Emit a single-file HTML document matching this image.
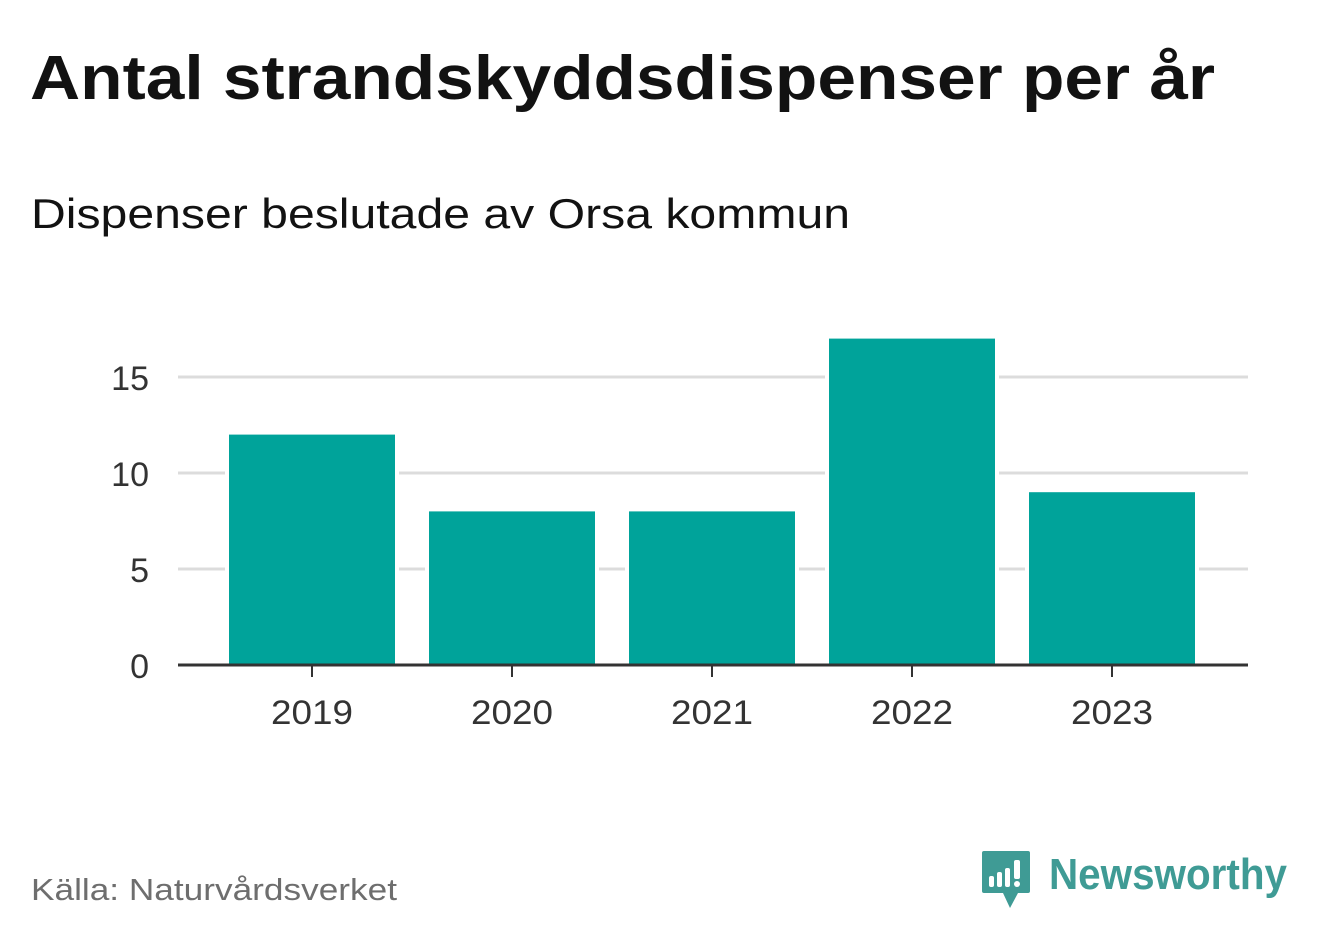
<!DOCTYPE html>
<html><head><meta charset="utf-8">
<style>
body{margin:0;width:1322px;height:939px;background:#fff;overflow:hidden;font-family:"Liberation Sans","DejaVu Sans",sans-serif;}
</style></head><body>
<svg width="1322" height="939" xmlns="http://www.w3.org/2000/svg">
<text x="30" y="99" font-size="62" font-weight="bold" fill="#121212" textLength="1185" lengthAdjust="spacingAndGlyphs">Antal strandskyddsdispenser per år</text>
<text x="31" y="228" font-size="42" fill="#121212" textLength="819" lengthAdjust="spacingAndGlyphs">Dispenser beslutade av Orsa kommun</text>
<g id="grid"></g>
<g id="bars"></g>
<g id="axis"></g>
<text x="31" y="900" font-size="31" fill="#6e6e6e" textLength="366" lengthAdjust="spacingAndGlyphs">Källa: Naturvårdsverket</text>
<g>
<path d="M984 851 H1028 Q1030 851 1030 853 V891 Q1030 893 1028 893 H1018 L1010 908 L1003 893 H984 Q982 893 982 891 V853 Q982 851 984 851 Z" fill="#3f9b95"/>
<rect x="989" y="876" width="5" height="11" rx="2" fill="#fff"/>
<rect x="997" y="872" width="5" height="15" rx="2" fill="#fff"/>
<rect x="1005" y="868" width="5" height="19" rx="2" fill="#fff"/>
<rect x="1014" y="860" width="6" height="19" rx="2" fill="#fff"/>
<circle cx="1017" cy="884" r="3" fill="#fff"/>
<text x="1049" y="889" font-size="44" font-weight="bold" fill="#3f9b95" textLength="238" lengthAdjust="spacingAndGlyphs">Newsworthy</text>
</g>
</svg>
<script>
const categories=["2019","2020","2021","2022","2023"];
const values=[12,8,8,17,9];
const yTicks=[0,5,10,15];
const NS="http://www.w3.org/2000/svg";
const y0=665, pxPerUnit=19.2;
function yScale(v){return y0-v*pxPerUnit;}
function xCenter(i){return 312+i*200;}
const barW=166;
function mk(tag,attrs,parent){const e=document.createElementNS(NS,tag);for(const k in attrs)e.setAttribute(k,attrs[k]);parent.appendChild(e);return e;}
const grid=document.getElementById('grid'),bars=document.getElementById('bars'),axis=document.getElementById('axis');
yTicks.forEach(t=>{
  if(t>0){const l=mk('line',{x1:178,x2:1248,y1:yScale(t),y2:yScale(t),stroke:'#dcdcdc','stroke-width':3},grid);
  
  }
  const tx=mk('text',{x:149,y:yScale(t)+13,'font-size':34,fill:'#333','text-anchor':'end'},axis);
  tx.textContent=t;
  
  
});
categories.forEach((c,i)=>{
  const r=mk('rect',{x:xCenter(i)-barW/2,y:yScale(values[i]),width:barW,height:y0-yScale(values[i]),fill:'#00a39a',stroke:'#fff','stroke-width':8,'paint-order':'stroke'},bars);
  
  
  const tk=mk('line',{x1:xCenter(i),x2:xCenter(i),y1:y0,y2:y0+12,stroke:'#333','stroke-width':2},axis);
  
  
  const tx=mk('text',{x:xCenter(i),y:724,'font-size':34,fill:'#333','text-anchor':'middle',textLength:82,lengthAdjust:'spacingAndGlyphs'},axis);
  tx.textContent=c;
  
  
});
const ax=mk('line',{x1:178,x2:1248,y1:y0,y2:y0,stroke:'#333','stroke-width':3},axis);


</script>
</body></html>
